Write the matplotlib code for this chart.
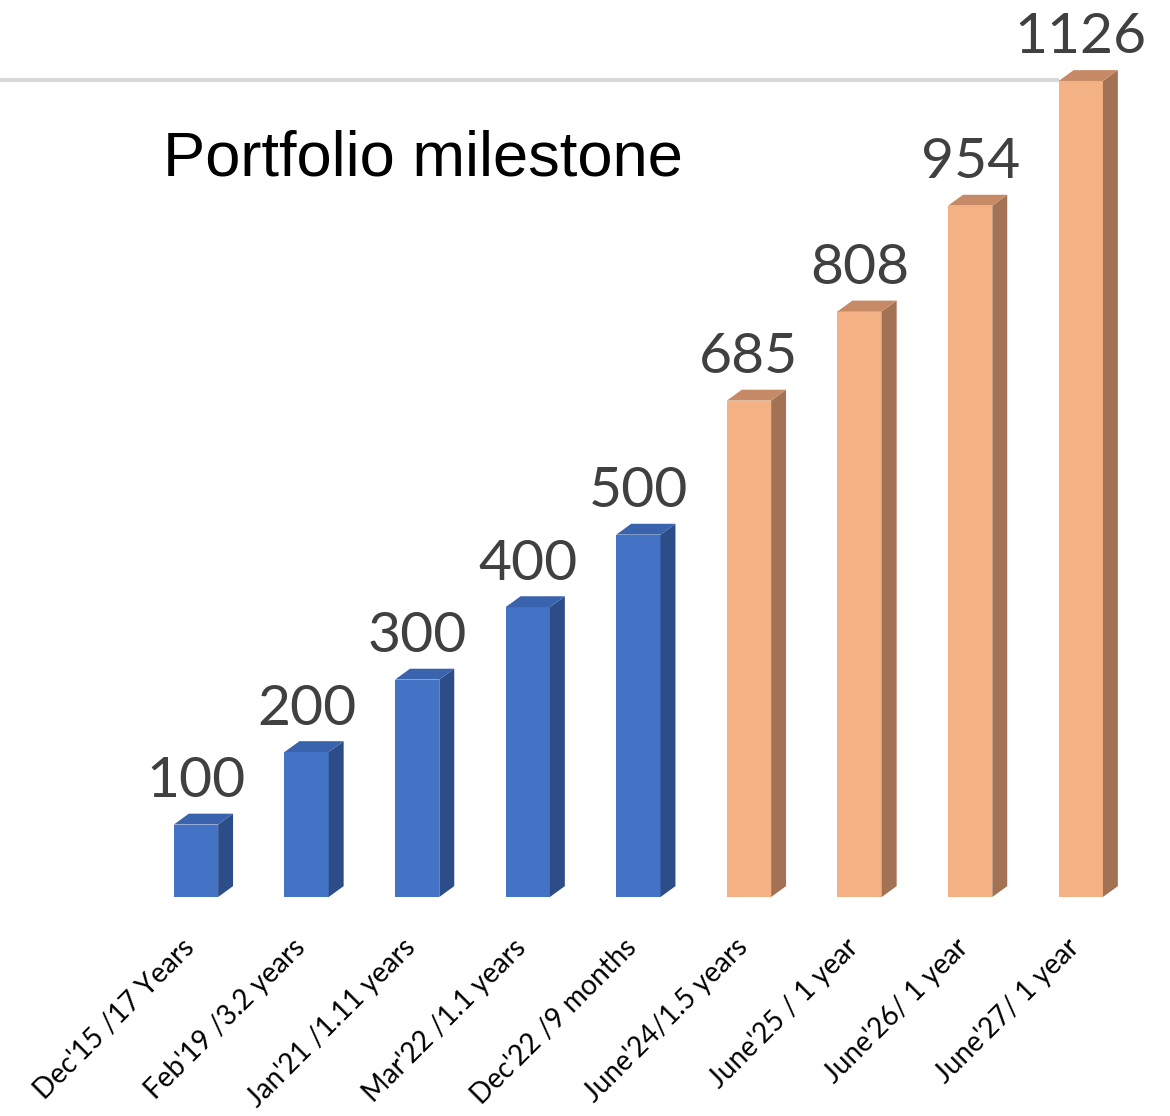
import numpy as np
import matplotlib.pyplot as plt
from matplotlib.patches import Polygon

labels = ["Dec'15 /17 Years", "Feb'19 /3.2 years", "Jan'21 /1.11 years",
          "Mar'22 /1.1 years", "Dec'22 /9 months", "June'24/1.5 years",
          "June'25 / 1 year", "June'26/ 1 year", "June'27/ 1 year"]
values = [100, 200, 300, 400, 500, 685, 808, 954, 1126]
actual = [True, True, True, True, True, False, False, False, False]

blue = ("#4472C4", "#2C4D88", "#3A63AD")
orange = ("#F4B183", "#A37254", "#C68B66")

fig = plt.figure(figsize=(11.7, 11.16), dpi=100)
ax = fig.add_axes([0, 219 / 1116, 1, 897 / 1116])
ax.set_xlim(-196 / 110.6, (1170 - 196) / 110.6)
ax.set_ylim(0, 897 / 0.7247)

width = 0.40
dx, dy = 0.135, 15

x = np.arange(len(values))
fronts = [blue[0] if a else orange[0] for a in actual]
ax.bar(x, values, width=width, color=fronts, zorder=3)

for xi, v, a in zip(x, values, actual):
    c = blue if a else orange
    l, r = xi - width / 2, xi + width / 2
    side = Polygon([(r, 0), (r + dx, dy), (r + dx, v + dy), (r, v)],
                   closed=True, facecolor=c[1], edgecolor="none", zorder=3)
    top = Polygon([(l, v), (l + dx, v + dy), (r + dx, v + dy), (r, v)],
                  closed=True, facecolor=c[2], edgecolor="none", zorder=3)
    ax.add_patch(side)
    ax.add_patch(top)
    ax.text(xi, v + 38, str(v), ha="center", va="baseline",
            fontsize=41, color="#404040", family="Lato")

# single gridline on the back wall
ax.hlines(1127, ax.get_xlim()[0], x[-1] - width / 2, color="#D9D9D9",
          linewidth=3, zorder=1)

ax.text(163 / 1170, 1 - 175 / 897, "Portfolio milestone", transform=ax.transAxes,
        fontsize=45.5, family="Liberation Sans", color="black", va="baseline")

for xi, lab in zip(x, labels):
    ax.text(xi - 0.05, -64, lab, rotation=45, ha="right", va="center",
            rotation_mode="anchor", fontsize=20, family="Lato", color="black")

ax.set_xticks([])
ax.set_yticks([])
for s in ax.spines.values():
    s.set_visible(False)

fig.savefig("out.png", dpi=100)
